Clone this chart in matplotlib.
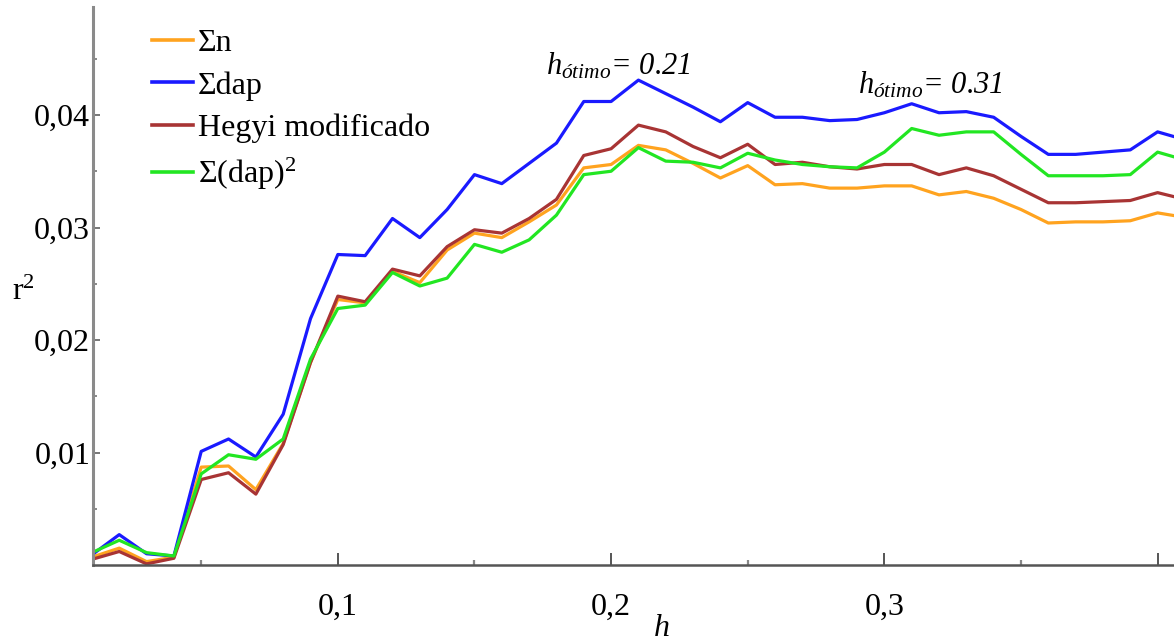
import matplotlib
matplotlib.use("Agg")
import matplotlib.pyplot as plt
from matplotlib.ticker import FixedLocator, FixedFormatter

plt.rcParams['font.family'] = ['Liberation Serif', 'DejaVu Serif']
plt.rcParams['mathtext.fontset'] = 'custom'
plt.rcParams['mathtext.rm'] = 'Liberation Serif'
plt.rcParams['mathtext.it'] = 'Liberation Serif:italic'
plt.rcParams['mathtext.default'] = 'regular'

# ---- data ----
h = [0.01, 0.02, 0.03, 0.04, 0.05, 0.06, 0.07, 0.08, 0.09, 0.10,
     0.11, 0.12, 0.13, 0.14, 0.15, 0.16, 0.17, 0.18, 0.19, 0.20,
     0.21, 0.22, 0.23, 0.24, 0.25, 0.26, 0.27, 0.28, 0.29, 0.30,
     0.31, 0.32, 0.33, 0.34, 0.35, 0.36, 0.37, 0.38, 0.39, 0.40, 0.41]

sum_n = [0.0007, 0.0015, 0.0003, 0.0007, 0.0087, 0.0088, 0.0067, 0.0108, 0.0180, 0.0236,
         0.0233, 0.0261, 0.0251, 0.0280, 0.0295, 0.0291, 0.0305, 0.0320, 0.0353, 0.0356,
         0.0373, 0.0369, 0.0357, 0.0344, 0.0355, 0.0338, 0.0339, 0.0335, 0.0335, 0.0337,
         0.0337, 0.0329, 0.0332, 0.0326, 0.0316, 0.0304, 0.0305, 0.0305, 0.0306, 0.0313, 0.0309]

sum_dap = [0.0009, 0.0027, 0.0010, 0.0008, 0.0101, 0.0112, 0.0096, 0.0134, 0.0219, 0.0276,
           0.0275, 0.0308, 0.0291, 0.0316, 0.0347, 0.0339, 0.0357, 0.0375, 0.0412, 0.0412,
           0.0431, 0.0419, 0.0407, 0.0394, 0.0411, 0.0398, 0.0398, 0.0395, 0.0396, 0.0402,
           0.0410, 0.0402, 0.0403, 0.0398, 0.0381, 0.0365, 0.0365, 0.0367, 0.0369, 0.0385, 0.0378]

hegyi = [0.0005, 0.0012, 0.0001, 0.0006, 0.0076, 0.0082, 0.0063, 0.0107, 0.0180, 0.0239,
         0.0234, 0.0263, 0.0257, 0.0283, 0.0298, 0.0295, 0.0308, 0.0325, 0.0364, 0.0370,
         0.0391, 0.0385, 0.0372, 0.0362, 0.0374, 0.0356, 0.0358, 0.0354, 0.0352, 0.0356,
         0.0356, 0.0347, 0.0353, 0.0346, 0.0334, 0.0322, 0.0322, 0.0323, 0.0324, 0.0331, 0.0325]

sum_dap2 = [0.0011, 0.0022, 0.0011, 0.0008, 0.0081, 0.0098, 0.0094, 0.0112, 0.0183, 0.0228,
            0.0231, 0.0260, 0.0248, 0.0255, 0.0285, 0.0278, 0.0289, 0.0311, 0.0347, 0.0350,
            0.0371, 0.0359, 0.0358, 0.0353, 0.0366, 0.0360, 0.0356, 0.0354, 0.0353, 0.0367,
            0.0388, 0.0382, 0.0385, 0.0385, 0.0365, 0.0346, 0.0346, 0.0346, 0.0347, 0.0367, 0.0360]

series_labels = ['Σn', 'Σdap', 'Hegyi modificado', 'Σ(dap)$^{2}$']
series_colors = ['#ffa31f', '#1a1aff', '#a83434', '#22e622']

x_major = [0.1, 0.2, 0.3, 0.4]
x_major_labels = ['0,1', '0,2', '0,3', '']
x_minor = [0.05, 0.15, 0.25, 0.35]
y_major = [0.01, 0.02, 0.03, 0.04]
y_major_labels = ['0,01', '0,02', '0,03', '0,04']
y_minor = [0.005, 0.015, 0.025, 0.035, 0.045]

# ---- figure ----
W, H = 1174, 641
fig = plt.figure(figsize=(W / 100, H / 100), dpi=100)
ax = fig.add_axes([93 / W, 1 - 565 / H, (W - 93) / W, (565 - 7) / H])

for ys, lab, col in zip([sum_n, sum_dap, hegyi, sum_dap2], series_labels, series_colors):
    ax.plot(h, ys, color=col, lw=2.3, label=lab, solid_joinstyle='round')

ax.set_xlim(0.0104, 0.406)
ax.set_ylim(0.0, 0.0496)

for s in ['top', 'right']:
    ax.spines[s].set_visible(False)
ax.spines['left'].set_color('#8a8a8a')
ax.spines['left'].set_linewidth(2.2)
ax.spines['bottom'].set_color('#555555')
ax.spines['bottom'].set_linewidth(1.8)

ax.xaxis.set_major_locator(FixedLocator(x_major))
ax.xaxis.set_major_formatter(FixedFormatter(x_major_labels))
ax.xaxis.set_minor_locator(FixedLocator(x_minor))
ax.yaxis.set_major_locator(FixedLocator(y_major))
ax.yaxis.set_major_formatter(FixedFormatter(y_major_labels))
ax.yaxis.set_minor_locator(FixedLocator(y_minor))

ax.tick_params(axis='x', which='major', direction='in', length=8.5, width=1.4,
               color='#555555', labelsize=23, pad=20)
ax.tick_params(axis='x', which='minor', direction='in', length=3.8, width=1.6,
               color='#888888')
ax.tick_params(axis='y', which='major', direction='in', length=5, width=1.4,
               color='#777777', labelsize=23, pad=2)
ax.tick_params(axis='y', which='minor', direction='in', length=3, width=1.4,
               color='#888888')

leg = ax.legend(loc='upper left', bbox_to_anchor=(152 / W, 1 - 29 / H),
                bbox_transform=fig.transFigure, frameon=False, fontsize=23,
                handlelength=1.28, handletextpad=0.15, labelspacing=0.40,
                borderpad=0, borderaxespad=0)
for line in leg.get_lines():
    line.set_linewidth(2.6)

ax.text(0.1761, 0.04356, r'$\mathit{h}_{\mathit{ótimo}}$= 0.21', fontsize=22,
        style='italic', ha='left', va='baseline')
ax.text(0.2902, 0.04190, r'$\mathit{h}_{\mathit{ótimo}}$= 0.31', fontsize=22,
        style='italic', ha='left', va='baseline')

fig.text(12 / W, 1 - 292 / H, 'r$^{2}$', fontsize=23, ha='left', va='center')
fig.text(662 / W, 1 - 628 / H, 'h', fontsize=23, style='italic', ha='center', va='center')

fig.savefig('out.png', dpi=100)
